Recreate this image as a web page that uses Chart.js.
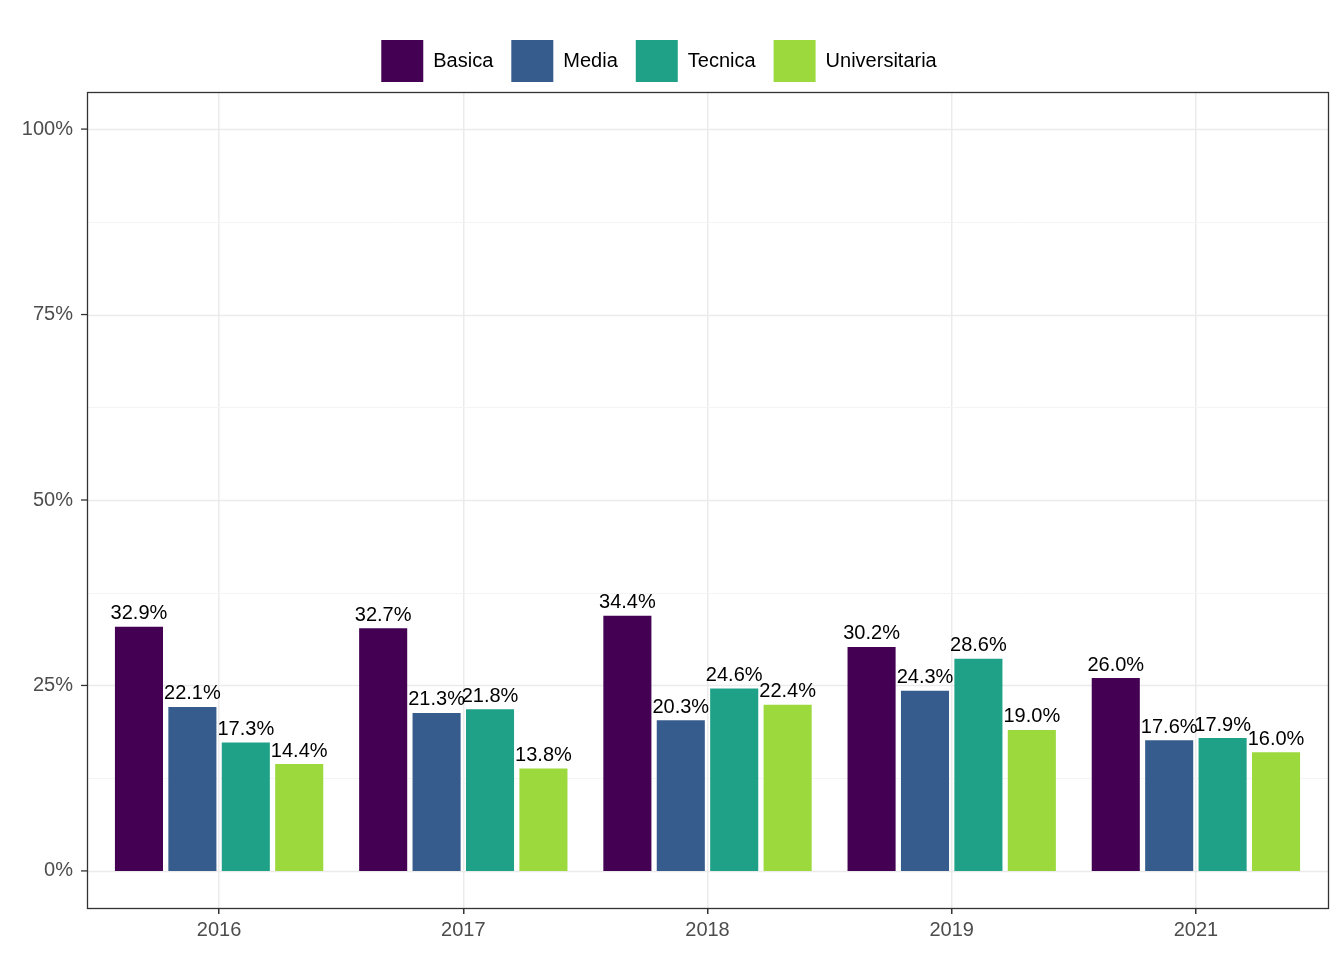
<!DOCTYPE html>
<html><head><meta charset="utf-8">
<script src="https://cdn.jsdelivr.net/npm/chart.js@4"></script>
<style>html,body{margin:0;background:#fff}#wrap{width:1344px;height:960px}</style>
</head><body><div id="wrap"><canvas id="c"></canvas></div>
<script>
const years = ['2016', '2017', '2018', '2019', '2021'];
const basica = [32.9, 32.7, 34.4, 30.2, 26.0];
const media = [22.1, 21.3, 20.3, 24.3, 17.6];
const tecnica = [17.3, 21.8, 24.6, 28.6, 17.9];
const universitaria = [14.4, 13.8, 22.4, 19.0, 16.0];
const yTicks = [0, 25, 50, 75, 100];

const PANEL = { left: 87, right: 1328 };

// panel border + full-width horizontal grid
const panelPlugin = {
  id: 'panel',
  beforeDatasetsDraw(chart) {
    const ctx = chart.ctx, y = chart.scales.y, a = chart.chartArea;
    ctx.save();
    for (let v = 0; v <= 100; v += 12.5) {
      const py = Math.round(y.getPixelForValue(v)) + 0.5;
      ctx.strokeStyle = v % 25 === 0 ? '#ebebeb' : '#f4f4f4';
      ctx.lineWidth = v % 25 === 0 ? 1.5 : 1;
      ctx.beginPath(); ctx.moveTo(PANEL.left, py); ctx.lineTo(PANEL.right, py); ctx.stroke();
    }
    ctx.restore();
  },
  afterDraw(chart) {
    const ctx = chart.ctx, a = chart.chartArea, y = chart.scales.y;
    ctx.save();
    ctx.strokeStyle = '#333'; ctx.lineWidth = 1.3;
    ctx.strokeRect(PANEL.left + 0.5, a.top + 0.5, PANEL.right - PANEL.left, a.bottom - a.top);
    ctx.font = '20px "Liberation Sans", Arial';
    ctx.fillStyle = '#4d4d4d'; ctx.textAlign = 'right'; ctx.textBaseline = 'middle';
    yTicks.forEach(v => {
      const py = y.getPixelForValue(v);
      ctx.fillText(v + '%', 73, py);
      ctx.beginPath(); ctx.moveTo(PANEL.left - 6, py); ctx.lineTo(PANEL.left, py); ctx.stroke();
    });
    // data labels
    ctx.fillStyle = '#000'; ctx.textAlign = 'center'; ctx.textBaseline = 'bottom';
    chart.data.datasets.forEach((ds, i) => {
      chart.getDatasetMeta(i).data.forEach((bar, j) => {
        ctx.fillText(ds.data[j].toFixed(1) + '%', bar.x, bar.y - 3);
      });
    });
    ctx.restore();
  }
};

new Chart(document.getElementById('c'), {
  type: 'bar',
  data: {
    labels: years,
    datasets: [
      { label: 'Basica', data: basica, backgroundColor: '#440154' },
      { label: 'Media', data: media, backgroundColor: '#365c8d' },
      { label: 'Tecnica', data: tecnica, backgroundColor: '#1fa187' },
      { label: 'Universitaria', data: universitaria, backgroundColor: '#9bd93c' }
    ]
  },
  options: {
    responsive: true, maintainAspectRatio: false, animation: false,
    categoryPercentage: 0.875, barPercentage: 0.9,
    layout: { padding: { top: 22, right: 26, left: 0, bottom: 0 } },
    plugins: {
      tooltip: { enabled: false },
      legend: {
        position: 'top',
        labels: { boxWidth: 42, boxHeight: 42, padding: 18, color: '#000',
          font: { size: 20, family: '"Liberation Sans", Arial' } }
      }
    },
    scales: {
      x: {
        grid: { offset: false, color: '#ebebeb', lineWidth: 1.5, drawTicks: true, tickLength: 6, tickColor: '#333' },
        border: { display: false },
        ticks: { color: '#4d4d4d', font: { size: 20, family: '"Liberation Sans", Arial' }, padding: 4 },
        afterFit(s) { s.height = 52; }
      },
      y: {
        min: -5, max: 105,
        grid: { display: false },
        border: { display: false },
        ticks: { display: false },
        afterFit(s) { s.width = 97; }
      }
    }
  },
  plugins: [panelPlugin]
});
</script></body></html>
